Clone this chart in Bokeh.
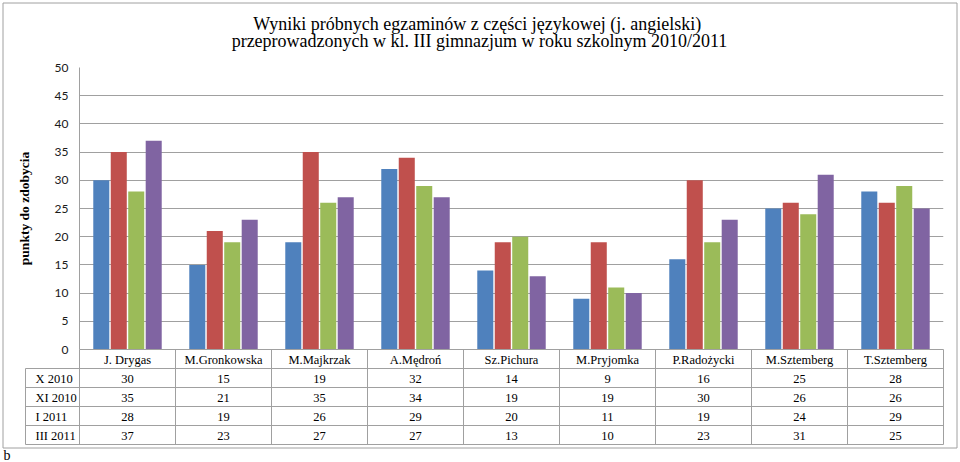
from bokeh.plotting import figure
from bokeh.models import Range1d, FixedTicker
from bokeh.core.properties import value
from bokeh.embed import file_html
from bokeh.resources import INLINE

# ---- data ----
categories = ["J. Drygas", "M.Gronkowska", "M.Majkrzak", "A.Mędroń", "Sz.Pichura",
              "M.Pryjomka", "P.Radożycki", "M.Sztemberg", "T.Sztemberg"]
series_names = ["X 2010", "XI 2010", "I 2011", "III 2011"]
x_2010 = [30, 15, 19, 32, 14, 9, 16, 25, 28]
xi_2010 = [35, 21, 35, 34, 19, 19, 30, 26, 26]
i_2011 = [28, 19, 26, 29, 20, 11, 19, 24, 29]
iii_2011 = [37, 23, 27, 27, 13, 10, 23, 31, 25]
y_ticks = [0, 5, 10, 15, 20, 25, 30, 35, 40, 45, 50]
title_lines = ["Wyniki próbnych egzaminów z części  językowej (j. angielski)",
               "przeprowadzonych w kl. III gimnazjum w roku szkolnym 2010/2011"]
y_label = "punkty do zdobycia"

series_values = [x_2010, xi_2010, i_2011, iii_2011]
colors = ["#4F81BD", "#C0504D", "#9BBB59", "#8064A2"]

# ---- layout (pixels inside the figure canvas) ----
W, H = 960, 462
FL, FR, FT, FB = 79, 943, 67, 349
ROW_H = 19
TABLE_LEFT = 25
GRAY = "#A0A0A0"
SERIF = "Liberation Serif"

n = len(categories)
YMAX = 50


def xpx(px):
    return (px - FL) * n / (FR - FL)


def ypx(py):
    return (FB - py) * YMAX / (FB - FT)


p = figure(width=W, height=H, x_range=Range1d(0, n), y_range=Range1d(0, YMAX),
           output_backend="svg", toolbar_location=None, title=None,
           x_axis_location=None,
           min_border_left=FL, min_border_right=W - FR,
           min_border_top=FT, min_border_bottom=H - FB)
p.outline_line_color = None
p.background_fill_color = "white"
p.border_fill_color = "white"

# y axis
ax = p.yaxis[0]
ax.ticker = FixedTicker(ticks=y_ticks)
ax.major_tick_out = 0
ax.major_tick_in = 0
ax.minor_tick_out = 0
ax.minor_tick_in = 0
ax.axis_line_color = GRAY
ax.major_label_text_font = "Lato"
ax.major_label_text_font_size = "12px"
ax.major_label_text_color = "#1a1a1a"
ax.major_label_standoff = 11
ax.axis_label = y_label
ax.axis_label_text_font = SERIF
ax.axis_label_text_font_style = "bold"
ax.axis_label_text_font_size = "13.5px"
ax.axis_label_text_color = "black"
ax.axis_label_standoff = 20

for g in p.xgrid:
    g.grid_line_color = None
p.ygrid.ticker = FixedTicker(ticks=y_ticks)
p.ygrid.grid_line_color = GRAY
p.ygrid.grid_line_width = 1

# bars
offsets = [-0.273, -0.091, 0.091, 0.273]
for vals, col, off in zip(series_values, colors, offsets):
    p.vbar(x=[i + 0.5 + off for i in range(n)], top=vals, bottom=0, width=0.167,
           fill_color=col, line_color=None)

# ---- data table below the plot ----
table_bottom = FB + ROW_H * (len(series_names) + 1)
hx0, hx1, hy = [], [], []
for k in range(len(series_names) + 2):
    py = FB + ROW_H * k
    hx0.append(0 if k == 0 else xpx(TABLE_LEFT))
    hx1.append(n)
    hy.append(ypx(py))
p.segment(x0=hx0, y0=hy, x1=hx1, y1=hy, line_color=GRAY, line_width=1, level="overlay")

vx, vy0, vy1 = [], [], []
for i in range(n + 1):
    vx.append(i)
    vy0.append(ypx(FB))
    vy1.append(ypx(table_bottom))
vx.append(xpx(TABLE_LEFT))
vy0.append(ypx(FB + ROW_H))
vy1.append(ypx(table_bottom))
p.segment(x0=vx, y0=vy0, x1=vx, y1=vy1, line_color=GRAY, line_width=1, level="overlay")

# header: category names
p.text(x=[i + 0.5 for i in range(n)], y=[ypx(FB + ROW_H / 2 + 1)] * n, text=categories,
       text_align="center", text_baseline="middle", text_font=value(SERIF),
       text_font_size="12.5px", text_color="black", level="overlay")

# rows
for r, (name, vals, col) in enumerate(zip(series_names, series_values, colors)):
    yc = ypx(FB + ROW_H * (r + 1.5) + 1)
    p.text(x=[i + 0.5 for i in range(n)], y=[yc] * n, text=[str(v) for v in vals],
           text_align="center", text_baseline="middle", text_font=value(SERIF),
           text_font_size="12.5px", text_color="black", level="overlay")
    p.scatter(x=[xpx(TABLE_LEFT + 4)], y=[ypx(FB + ROW_H * (r + 1.5))], marker="square",
              size=5, fill_color=col, line_color=None, level="overlay")
    p.text(x=[xpx(TABLE_LEFT + 10)], y=[yc], text=[name], text_align="left",
           text_baseline="middle", text_font=value(SERIF), text_font_size="12.5px",
           text_color="black", level="overlay")

# title
p.text(x=[xpx(479), xpx(479)], y=[ypx(23.5), ypx(40.5)], text=title_lines,
       text_align="center", text_baseline="alphabetic", text_font=value(SERIF),
       text_font_size="18px", text_color="black", level="overlay")

# outer chart border
p.quad(left=[xpx(2.5)], right=[xpx(956.5)], top=[ypx(2.5)], bottom=[ypx(447.5)],
       fill_color=None, line_color=GRAY, line_width=1, level="overlay")

# caption letter below the chart
p.text(x=[xpx(3)], y=[ypx(455)], text=["b"], text_align="left", text_baseline="middle",
       text_font=value(SERIF), text_font_size="14px", text_color="black", level="overlay")

open("out.html", "w").write(file_html(p, INLINE))
